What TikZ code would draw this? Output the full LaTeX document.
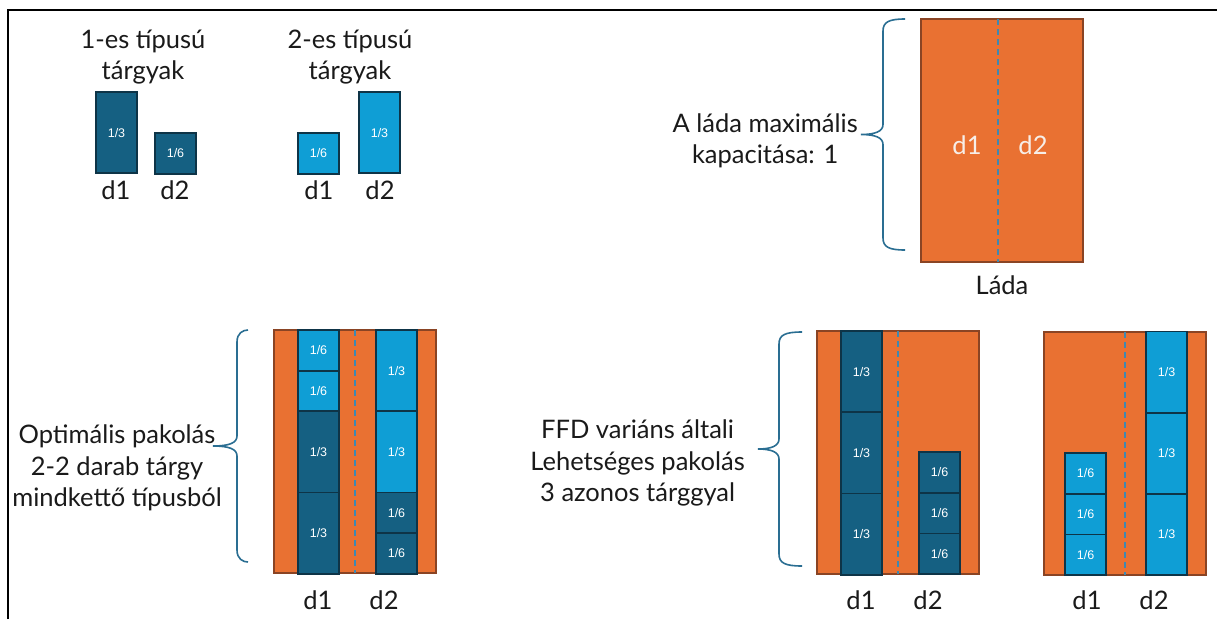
\documentclass[tikz,border=0pt]{standalone}
\usepackage{fontspec}
\setmainfont{Lato}
\newfontfamily\numfont{Liberation Sans}
\definecolor{binorange}{HTML}{E97132}
\definecolor{binedge}{HTML}{8A4424}
\definecolor{typeone}{HTML}{156082}
\definecolor{typetwo}{HTML}{0F9ED5}
\definecolor{itemedge}{HTML}{0E3447}
\definecolor{dashcol}{HTML}{3F88B0}
\definecolor{bracecol}{HTML}{2A6E92}
\definecolor{txt}{HTML}{1A1A1A}
\definecolor{bintxt}{HTML}{F7EEE8}
\newcommand\curly[5]{%
 \draw[brc] (#1,#4) .. controls ({#2+6},#4) and (#2,{#4+3}) .. (#2,{#4+12})
  -- (#2,{(#4+#5)/2-10}) .. controls (#2,{(#4+#5)/2-3}) and ({#2-8},{(#4+#5)/2}) .. (#3,{(#4+#5)/2})
  .. controls ({#2-8},{(#4+#5)/2}) and (#2,{(#4+#5)/2+3}) .. (#2,{(#4+#5)/2+10})
  -- (#2,{#5-12}) .. controls (#2,{#5-3}) and ({#2+6},#5) .. (#1,#5);}
\begin{document}
\begin{tikzpicture}[x=1pt,y=-1pt,
 bin/.style={draw=binedge,fill=binorange,line width=1.2pt,inner sep=0pt,outer sep=0pt,anchor=north west,minimum width=162pt,minimum height=243pt},
 item/.style={draw=itemedge,line width=1.8pt,inner sep=0pt,outer sep=0pt,anchor=north west,text=white,font=\numfont\fontsize{12.5}{14}\selectfont,minimum width=41pt},
 itemone/.style={item,fill=typeone},
 itemtwo/.style={item,fill=typetwo},
 sixth/.style={minimum height=40.6pt},
 third/.style={minimum height=81.2pt},
 below/.style={anchor=north},
 sep/.style={draw=dashcol,line width=1.6pt,dash pattern=on 6pt off 4pt},
 brc/.style={draw=bracecol,line width=1.6pt},
 lbl/.style={text=txt,font=\fontsize{25.5}{31.5}\selectfont,align=center,inner sep=0pt},
 binlbl/.style={text=bintxt,font=\fontsize{25.5}{31}\selectfont,inner sep=0pt}
]
\useasboundingbox (0,0) rectangle (1217,619);
\fill[white] (0,0) rectangle (1217,619);
\draw[black,line width=2pt] (8.3,619) -- (8.3,10) -- (1217,10);

% item types
\node[lbl] (t1) at (143,57) {1-es típusú\\tárgyak};
\node[lbl] (t2) at (350,57) {2-es típusú\\tárgyak};
\node[itemone,third] (a1) at (96,92) {1/3};
\node[itemone,sixth] (a2) at (155,133) {1/6};
\node[itemtwo,sixth] (b1) at (298,133) {1/6};
\node[itemtwo,third] (b2) at (359,92) {1/3};
\node[lbl] (la1) at (116,190) {d1};
\node[lbl] (la2) at (175,190) {d2};
\node[lbl] (lb1) at (319,190) {d1};
\node[lbl] (lb2) at (380,190) {d2};

% lada
\node[bin] (lada) at (921,19) {};
\draw[sep] ([xshift=-4pt]lada.north) -- ([xshift=-4pt]lada.south);
\node[binlbl] (ld1) at (967,145) {d1};
\node[binlbl] (ld2) at (1033,145) {d2};
\node[lbl] (ladal) at (1002,285) {Láda};
\curly{905}{883}{861}{19}{250}
\node[lbl,anchor=east] (cap) at (858,141) {A láda maximális\\kapacitása: 1};

% optimal packing
\node[bin] (opt) at (274,330) {};
\draw[sep] (opt.north) -- (opt.south);
\node[itemtwo,sixth] (o11) at (298,330) {1/6};
\node[itemtwo,sixth,below] (o12) at (o11.south) {1/6};
\node[itemone,third,below] (o13) at (o12.south) {1/3};
\node[itemone,third,below] (o14) at (o13.south) {1/3};
\node[itemtwo,third] (o21) at (376,330) {1/3};
\node[itemtwo,third,below] (o22) at (o21.south) {1/3};
\node[itemone,sixth,below] (o23) at (o22.south) {1/6};
\node[itemone,sixth,below] (o24) at (o23.south) {1/6};
\node[lbl] (lo1) at (318,600) {d1};
\node[lbl] (lo2) at (384,600) {d2};
\curly{248}{237}{213}{330}{562}
\node[lbl,anchor=east] (optl) at (222,468) {Optimális pakolás\\2-2 darab tárgy\\mindkettő típusból};

% FFD packing 1
\node[bin] (fa) at (817,331) {};
\draw[sep] (fa.north) -- (fa.south);
\node[itemone,third] (f11) at (841,331) {1/3};
\node[itemone,third,below] (f12) at (f11.south) {1/3};
\node[itemone,third,below] (f13) at (f12.south) {1/3};
\node[itemone,sixth,anchor=south west] (f23) at (919,574) {1/6};
\node[itemone,sixth,anchor=south] (f22) at (f23.north) {1/6};
\node[itemone,sixth,anchor=south] (f21) at (f22.north) {1/6};
\node[lbl] (lf1) at (861,600) {d1};
\node[lbl] (lf2) at (928,600) {d2};
\curly{802}{779}{758}{332}{566}
\node[lbl,anchor=east] (ffdl) at (745,463) {FFD variáns általi\\Lehetséges pakolás\\3 azonos tárggyal};

% FFD packing 2
\node[bin] (fb) at (1044,332) {};
\draw[sep] (fb.north) -- (fb.south);
\node[itemtwo,sixth,anchor=south west] (g13) at (1065,575) {1/6};
\node[itemtwo,sixth,anchor=south] (g12) at (g13.north) {1/6};
\node[itemtwo,sixth,anchor=south] (g11) at (g12.north) {1/6};
\node[itemtwo,third,anchor=south west] (g23) at (1146,575) {1/3};
\node[itemtwo,third,anchor=south] (g22) at (g23.north) {1/3};
\node[itemtwo,third,anchor=south] (g21) at (g22.north) {1/3};
\node[lbl] (lg1) at (1087,600) {d1};
\node[lbl] (lg2) at (1154,600) {d2};
\end{tikzpicture}
\end{document}
